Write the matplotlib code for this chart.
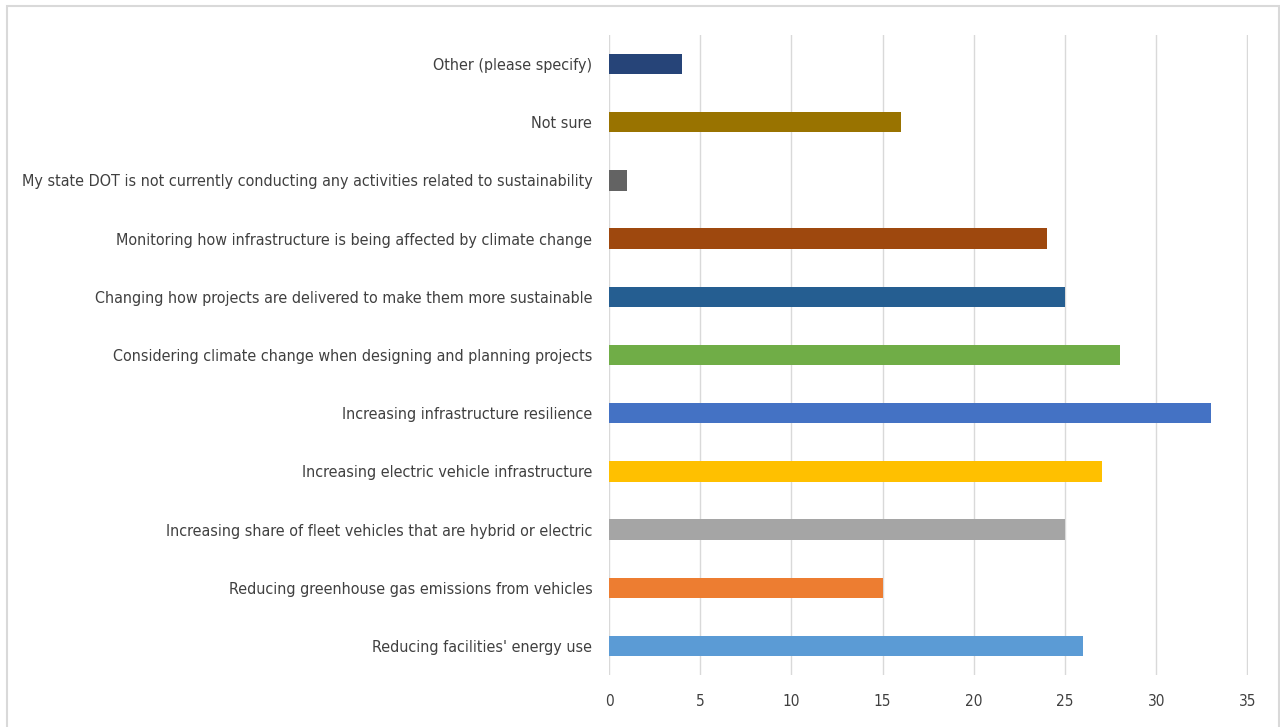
import matplotlib
matplotlib.use("Agg")
import matplotlib.pyplot as plt
from matplotlib.patches import Rectangle
from matplotlib import font_manager
from matplotlib.font_manager import FontProperties

categories = [
    "Reducing facilities' energy use",
    "Reducing greenhouse gas emissions from vehicles",
    "Increasing share of fleet vehicles that are hybrid or electric",
    "Increasing electric vehicle infrastructure",
    "Increasing infrastructure resilience",
    "Considering climate change when designing and planning projects",
    "Changing how projects are delivered to make them more sustainable",
    "Monitoring how infrastructure is being affected by climate change",
    "My state DOT is not currently conducting any activities related to sustainability",
    "Not sure",
    "Other (please specify)",
]
values = [26, 15, 25, 27, 33, 28, 25, 24, 1, 16, 4]
colors = ["#5B9BD5", "#ED7D31", "#A5A5A5", "#FFC000", "#4472C4", "#70AD47",
          "#255E91", "#9E480E", "#636363", "#997300", "#264478"]
xticks = [0, 5, 10, 15, 20, 25, 30, 35]

# look for a condensed / narrow regular face
cand = None
for f in font_manager.fontManager.ttflist:
    nm = f.name.lower()
    fn = f.fname.lower()
    stretch = str(f.stretch).lower()
    if f.style != "normal" or f.weight not in (400, "normal", "regular"):
        continue
    if ("narrow" in nm or "condensed" in nm or "condensed" in fn or "narrow" in fn
            or stretch in ("condensed", "semi-condensed", "semicondensed")):
        if "bold" in fn or "oblique" in fn or "italic" in fn:
            continue
        cand = f.fname
        break

if cand:
    fp = FontProperties(fname=cand)
else:
    fp = FontProperties(family="DejaVu Sans")

W, H = 1280, 727
fig = plt.figure(figsize=(W / 100, H / 100), dpi=100)
ax = fig.add_axes([609 / W, 1 - 675 / H, (1248 - 609) / W, (675 - 35) / H])

y = list(range(len(categories)))
ax.barh(y, values, height=0.35, color=colors, zorder=3)
ax.set_ylim(-0.5, len(categories) - 0.5)
ax.set_xlim(0, 35.03)
ax.set_xticks(xticks)
ax.set_xticklabels([str(t) for t in xticks])
ax.set_yticks(y)
ax.set_yticklabels(categories)
ax.grid(axis="x", color="#D9D9D9", linewidth=1.0, zorder=0)
ax.grid(axis="y", visible=False)
for s in ax.spines.values():
    s.set_visible(False)
ax.tick_params(axis="both", length=0, colors="#404040")
ax.tick_params(axis="y", pad=12)
ax.tick_params(axis="x", pad=14)

for t in ax.get_yticklabels():
    t.set_fontproperties(fp)
    t.set_fontsize(13.5)
for t in ax.get_xticklabels():
    t.set_fontproperties(fp)
    t.set_fontsize(13)

# fit longest label width to the reference (~572 px)
fig.canvas.draw()
r = fig.canvas.get_renderer()
widths = [t.get_window_extent(r).width for t in ax.get_yticklabels()]
scale = 572 / max(widths)
ysize = min(13.5 * scale, 16)
for t in ax.get_yticklabels():
    t.set_fontsize(ysize)
for t in ax.get_xticklabels():
    t.set_fontsize(min(13 * scale, 15))

fig.patches.append(Rectangle((7 / W, -0.01), (1279 - 7) / W, 1 - 6 / H + 0.01,
                             transform=fig.transFigure, fill=False,
                             edgecolor="#D9D9D9", linewidth=1.5, zorder=0))

fig.savefig("out.png", dpi=100, facecolor="white")
